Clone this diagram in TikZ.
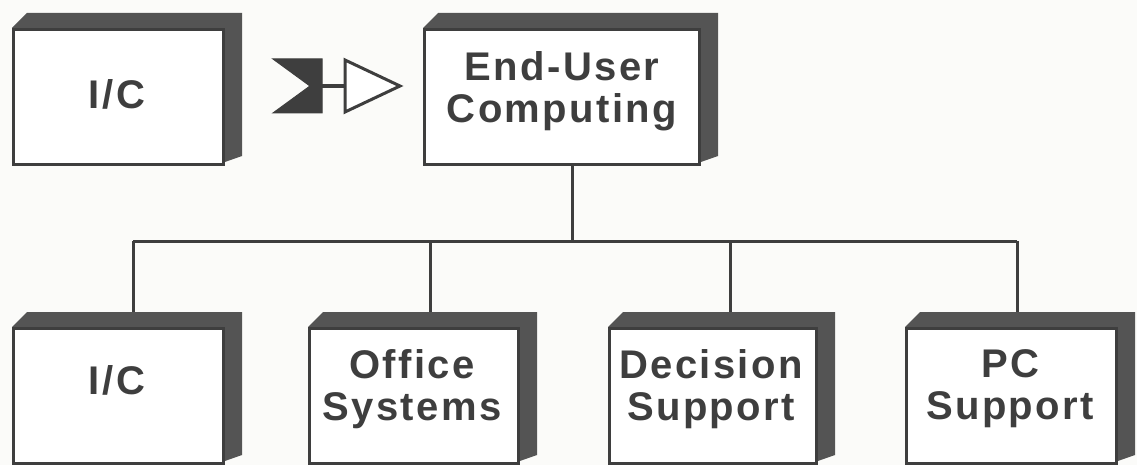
\documentclass[tikz,border=0pt]{standalone}
\usepackage{fontspec}
\setmainfont{Liberation Sans}[LetterSpace=6]
\usetikzlibrary{calc}
\definecolor{ink}{HTML}{3E3E3E}
\definecolor{slabgray}{HTML}{545454}
\definecolor{paper}{HTML}{FBFBF9}
\tikzset{
  front/.style={draw=ink, line width=3pt, fill=white, rectangle, inner sep=0pt, anchor=north west},
  boxlabel/.style={font=\bfseries\fontsize{40}{42}\selectfont, text=ink, align=center, inner sep=0pt},
  link/.style={draw=ink, line width=3pt},
  tipsolid/.style={fill=ink, draw=ink, line width=1pt, line join=miter},
  tiphollow/.style={fill=white, draw=ink, line width=3pt, line join=miter},
}
% a box seen slightly from above and from the right:
% name, front-left x, front-top y, front-right x, front-bottom y
\newcommand\solidbox[5]{%
  \fill[slabgray] (#2,#3) -- (#2+15,#3-15) -- (#4+20,#3-15) -- (#4+20,#5-7) -- (#4,#5) -- (#4,#3) -- cycle;
  \node[front, minimum width={(#4-#2)*1pt}, minimum height={(#5-#3)*1pt}] (#1) at (#2,#3) {};
  \coordinate (#1top) at ($(#1.north)+(0,-15)$);
}
\newcommand\iovc{I/\kern3pt C}
\begin{document}
\begin{tikzpicture}[x=1pt,y=-1pt]
  \useasboundingbox (0,0) rectangle (1137,465);
  \fill[paper] (0,0) rectangle (1137,465);

  % upper row
  \solidbox{icA}{12}{28}{222}{163}
  \solidbox{euc}{423}{28}{698}{163}
  \node[boxlabel] (icAtext) at (117,94) {\iovc};
  \node[boxlabel] (euctext) at (562,91) {End-User\\Computing};

  % interface symbol between the two upper boxes
  \coordinate (sL) at (273,59);
  \fill[tipsolid] (sL) -- (322,59) -- (322,113) -- (273,113) -- (310,86) -- cycle;
  \draw[link, line width=4pt] (322,86) -- (345,86);
  \draw[tiphollow] (345,60) -- (400,86) -- (345,112) -- cycle;

  % lower row
  \solidbox{icB}{12}{327}{222}{462}
  \solidbox{ofs}{308}{327}{517}{462}
  \solidbox{dss}{608}{327}{815}{462}
  \solidbox{pcs}{905}{327}{1115}{462}
  \node[boxlabel] (icBtext) at (117,380) {\iovc};
  \node[boxlabel] (ofstext) at (412,389) {Office\\Systems};
  \node[boxlabel] (dsstext) at (711,389) {Decision\\Support};
  \node[boxlabel] (pcstext) at (1010,389) {PC\\Support};

  % tree connectors
  \coordinate (hub) at (572,241);
  \coordinate (d1) at (133,241);
  \coordinate (d2) at (430,241);
  \coordinate (d3) at (730,241);
  \coordinate (d4) at (1017,241);
  \draw[link] (hub |- euc.south) -- (hub);
  \draw[link] (d1) -- (d4);
  \draw[link] (d1) -- (d1 |- icBtop);
  \draw[link] (d2) -- (d2 |- ofstop);
  \draw[link] (d3) -- (d3 |- dsstop);
  \draw[link] (d4) -- (d4 |- pcstop);
\end{tikzpicture}
\end{document}
